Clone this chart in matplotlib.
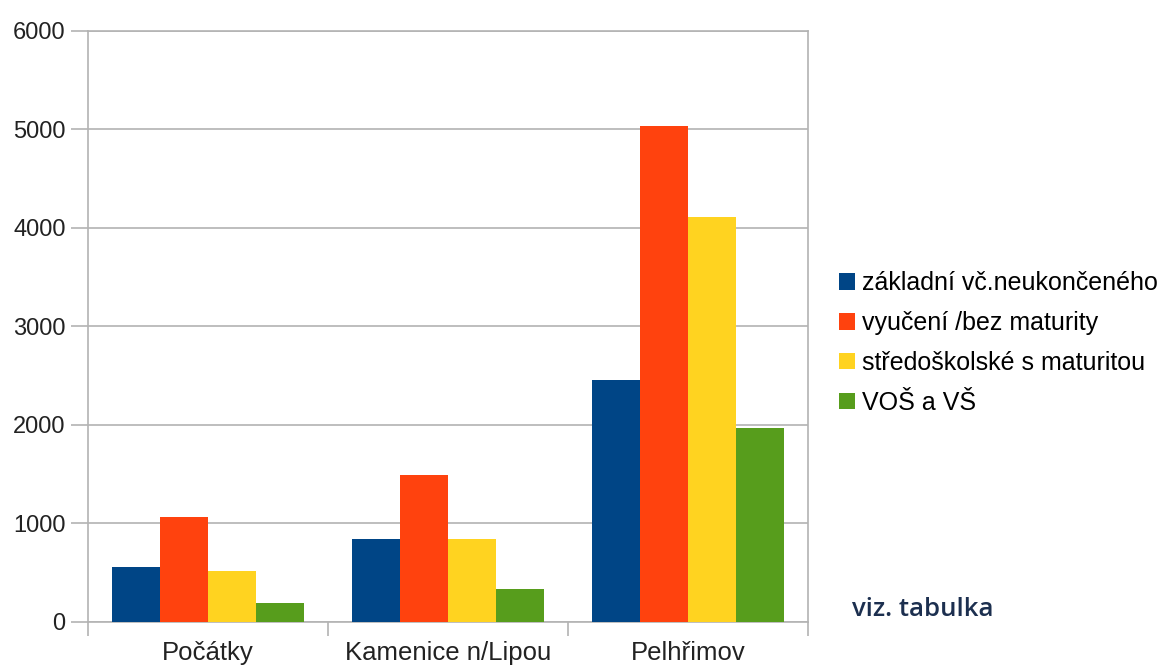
import matplotlib
matplotlib.use("Agg")
import matplotlib.pyplot as plt
import numpy as np

categories = ["Počátky", "Kamenice n/Lipou", "Pelhřimov"]
series_names = ["základní vč.neukončeného", "vyučení /bez maturity",
                "středoškolské s maturitou", "VOŠ a VŠ"]
zakladni = [558, 843, 2457]
vyuceni = [1066, 1492, 5039]
stredoskolske = [518, 843, 4115]
vos_vs = [193, 335, 1970]
y_ticks = [0, 1000, 2000, 3000, 4000, 5000, 6000]
colors = ["#004586", "#ff420e", "#ffd320", "#579d1c"]

plt.rcParams['font.family'] = ['Liberation Sans', 'DejaVu Sans']

fig = plt.figure(figsize=(11.71, 6.66), dpi=100)
ax = fig.add_axes([0.0751, 0.0661, 0.6149, 0.8874])

x = np.arange(len(categories))
w = 0.2
all_series = [zakladni, vyuceni, stredoskolske, vos_vs]
for i, (vals, name, c) in enumerate(zip(all_series, series_names, colors)):
    ax.bar(x + (i - 1.5) * w, vals, width=w, color=c, label=name, zorder=3)

ax.set_xlim(-0.5, 2.5)
ax.set_ylim(0, 6000)
ax.set_yticks(y_ticks)
ax.set_yticklabels([str(v) for v in y_ticks], fontsize=17, color="#222222")
ax.yaxis.grid(True, color="#b3b3b3", linewidth=1.2, zorder=0)
ax.set_xticks(x)
ax.set_xticklabels(categories, fontsize=18.5, color="#222222")
ax.tick_params(axis='x', length=0, pad=14)
ax.set_xticks([-0.5, 0.5, 1.5, 2.5], minor=True)
ax.tick_params(axis='x', which='minor', length=10, color="#b3b3b3", width=1.2)
ax.tick_params(axis='y', length=12, color="#b3b3b3", width=1.2, pad=4)
for s in ax.spines.values():
    s.set_color("#b3b3b3")
    s.set_linewidth(1.2)

handles, labels = ax.get_legend_handles_labels()
leg = fig.legend(handles, labels, loc='center left', bbox_to_anchor=(0.708, 0.485),
                 frameon=False, fontsize=18, handlelength=0.63, handleheight=0.63,
                 handletextpad=0.3, labelspacing=0.63, borderaxespad=0)

fig.text(0.728, 0.085, "viz. tabulka", fontsize=18.5, color="#1c2f4f",
         family=['Open Sans', 'DejaVu Sans'], fontweight='semibold', va='center')

fig.savefig("out.png", dpi=100)
